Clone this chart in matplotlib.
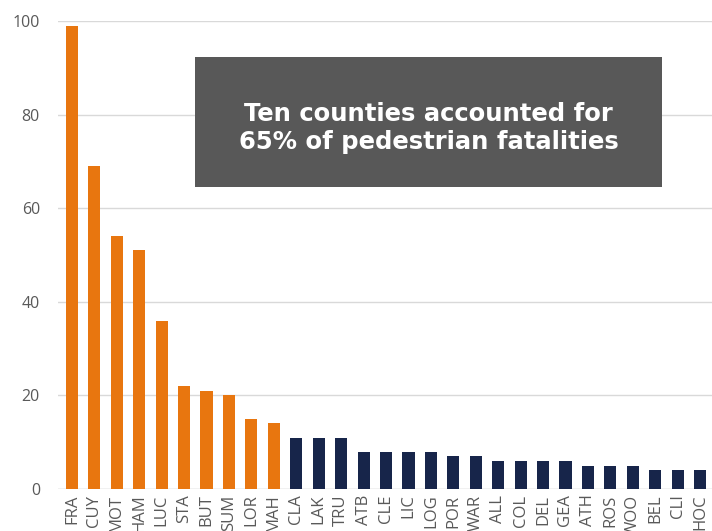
import matplotlib
matplotlib.use("Agg")
import matplotlib.pyplot as plt
from matplotlib.patches import Rectangle

counties = ["FRA", "CUY", "MOT", "HAM", "LUC", "STA", "BUT", "SUM", "LOR", "MAH",
            "CLA", "LAK", "TRU", "ATB", "CLE", "LIC", "LOG", "POR", "WAR", "ALL",
            "COL", "DEL", "GEA", "ATH", "ROS", "WOO", "BEL", "CLI", "HOC"]
fatalities = [99, 69, 54, 51, 36, 22, 21, 20, 15, 14,
              11, 11, 11, 8, 8, 8, 8, 7, 7, 6,
              6, 6, 6, 5, 5, 5, 4, 4, 4]
top_n = 10
yticks = [0, 20, 40, 60, 80, 100]
callout = "Ten counties accounted for\n65% of pedestrian fatalities"

orange = "#E8760F"
navy = "#17254A"
gray_text = "#595959"

plt.rcParams['font.family'] = ['Open Sans', 'DejaVu Sans']

fig = plt.figure(figsize=(7.12, 5.31), dpi=100)
ax = fig.add_axes([58/712, 1 - 489/531, 1 - 58/712, (489 - 21)/531])

x = list(range(len(counties)))
colors = [orange if i < top_n else navy for i in x]
ax.bar(x, fatalities, width=0.54, color=colors, zorder=3)

ax.set_ylim(0, 100)
ax.set_xlim(-0.62, len(counties) - 0.47)
ax.set_yticks(yticks)
ax.set_xticks(x)
ax.set_xticklabels(counties, rotation=90, fontsize=12, color=gray_text)
ax.tick_params(axis='y', labelsize=11.5, colors=gray_text, length=0, pad=13)
ax.tick_params(axis='x', length=0, pad=4)
ax.grid(axis='y', color="#d9d9d9", linewidth=1, zorder=0)
for s in ax.spines.values():
    s.set_visible(False)
ax.axhline(0, color="#d9d9d9", linewidth=1, zorder=1)

# callout box in axes-fraction coordinates
bx0 = (195 - 58) / (712 - 58)
bx1 = (662 - 58) / (712 - 58)
by0 = (489 - 187) / (489 - 21)
by1 = (489 - 57) / (489 - 21)
ax.add_patch(Rectangle((bx0, by0), bx1 - bx0, by1 - by0, transform=ax.transAxes,
                       facecolor="#585858", edgecolor="none", zorder=5))
ax.text((bx0 + bx1) / 2, (489 - 128) / (489 - 21), callout, transform=ax.transAxes,
        ha='center', va='center', color='white', fontsize=17.5, fontweight='bold',
        family=['DejaVu Sans'], linespacing=1.25, zorder=6)

fig.savefig("out.png", dpi=100)
